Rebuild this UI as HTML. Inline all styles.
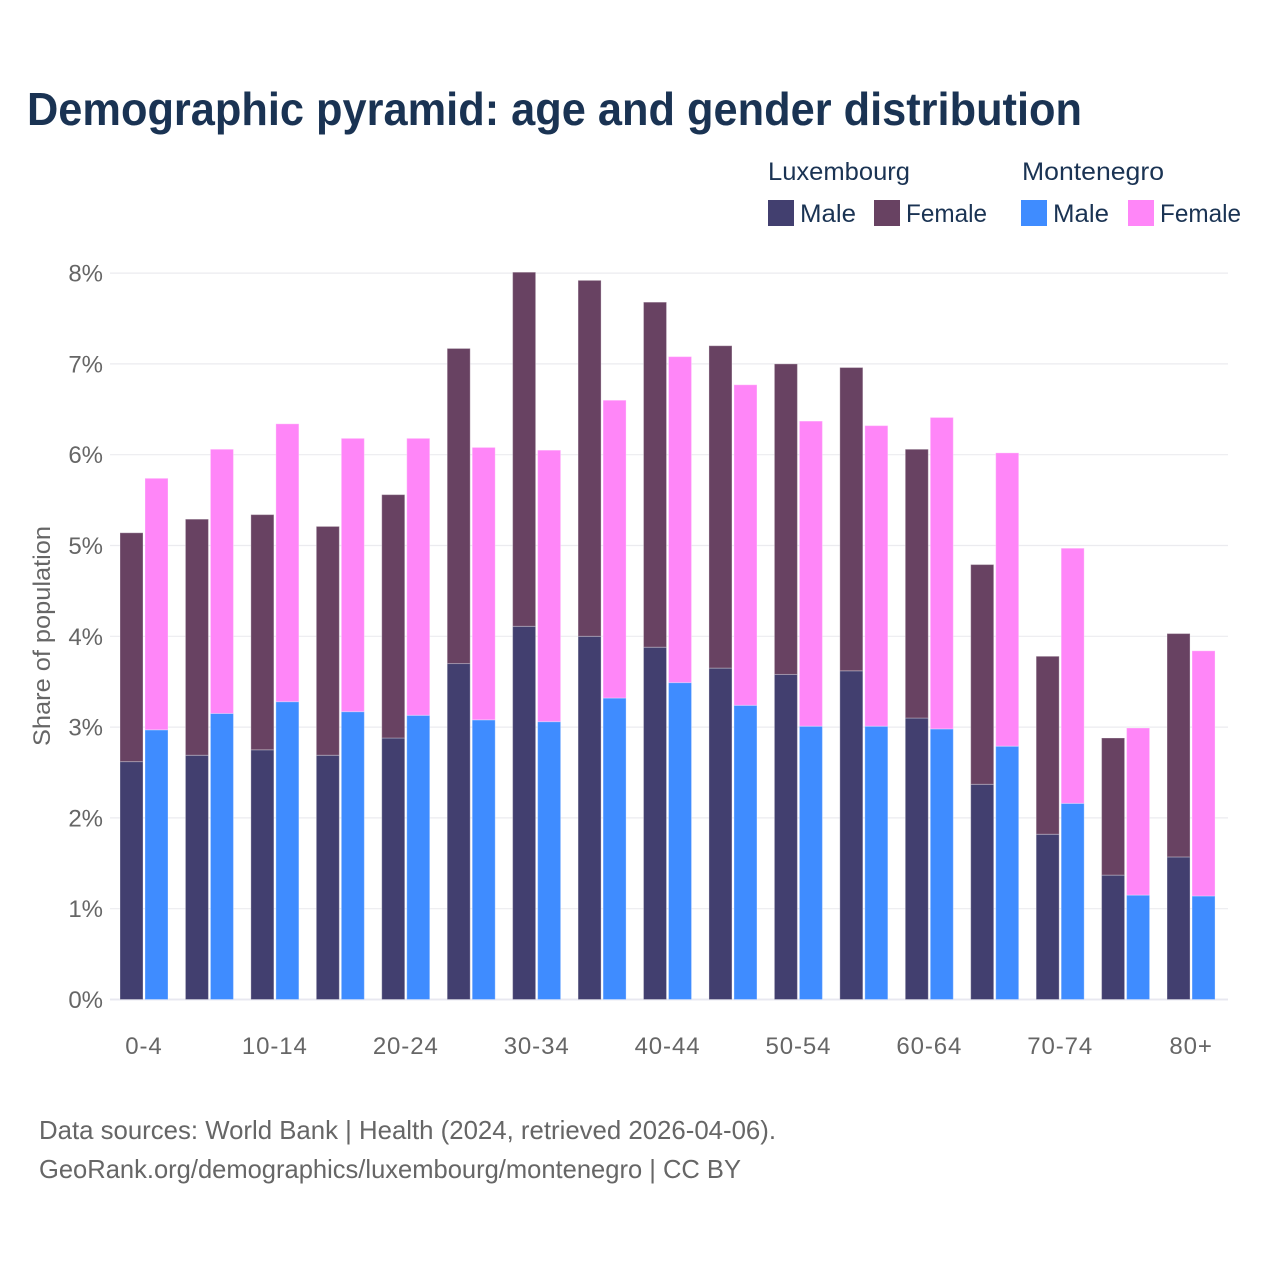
<!DOCTYPE html>
<html lang="en">
<head>
<meta charset="utf-8">
<title>Demographic pyramid: age and gender distribution</title>
<style>
html,body{margin:0;padding:0;background:#fff;}
svg{display:block;font-family:"Liberation Sans",sans-serif;}
</style>
</head>
<body>
<svg id="chart" xmlns="http://www.w3.org/2000/svg" width="1280" height="1280" viewBox="0 0 1280 1280">
  <rect width="1280" height="1280" fill="#ffffff"/>
  <text x="27" y="125" font-size="46" font-weight="700" fill="#1a3353" textLength="1055" lengthAdjust="spacingAndGlyphs">Demographic pyramid: age and gender distribution</text>

  <g font-size="25" fill="#1a3353">
    <text x="768" y="180" textLength="142" lengthAdjust="spacingAndGlyphs">Luxembourg</text>
    <text x="1022" y="180" textLength="142" lengthAdjust="spacingAndGlyphs">Montenegro</text>
    <rect x="768" y="200" width="26" height="26" fill="#423f6f"/>
    <text x="800" y="222" textLength="56" lengthAdjust="spacingAndGlyphs">Male</text>
    <rect x="874" y="200" width="26" height="26" fill="#684262"/>
    <text x="906" y="222" textLength="81" lengthAdjust="spacingAndGlyphs">Female</text>
    <rect x="1021" y="200" width="26" height="26" fill="#3f8cff"/>
    <text x="1053" y="222" textLength="56" lengthAdjust="spacingAndGlyphs">Male</text>
    <rect x="1128" y="200" width="26" height="26" fill="#ff86f8"/>
    <text x="1160" y="222" textLength="81" lengthAdjust="spacingAndGlyphs">Female</text>
  </g>

  <g id="grid"></g>
  <g id="yticks"></g>
  <g id="bars"></g>
  <g id="xticks"></g>

  <text transform="translate(50,636) rotate(-90)" text-anchor="middle" font-size="24" fill="#666666" textLength="220" lengthAdjust="spacingAndGlyphs">Share of population</text>

  <g font-size="26" fill="#666666">
    <text x="39" y="1139" textLength="737" lengthAdjust="spacingAndGlyphs">Data sources: World Bank | Health (2024, retrieved 2026-04-06).</text>
    <text x="39" y="1178" textLength="702" lengthAdjust="spacingAndGlyphs">GeoRank.org/demographics/luxembourg/montenegro | CC BY</text>
  </g>
</svg>
<script>
const categories = ["0-4","5-9","10-14","15-19","20-24","25-29","30-34","35-39","40-44","45-49","50-54","55-59","60-64","65-69","70-74","75-79","80+"];
const shownCategories = ["0-4","10-14","20-24","30-34","40-44","50-54","60-64","70-74","80+"];
const luxembourgMale = [2.62,2.69,2.75,2.69,2.88,3.70,4.11,4.00,3.88,3.65,3.58,3.62,3.10,2.37,1.82,1.37,1.57];
const luxembourgFemale = [2.52,2.60,2.59,2.52,2.68,3.47,3.90,3.92,3.80,3.55,3.42,3.34,2.96,2.42,1.96,1.51,2.46];
const montenegroMale = [2.97,3.15,3.28,3.17,3.13,3.08,3.06,3.32,3.49,3.24,3.01,3.01,2.98,2.79,2.16,1.15,1.14];
const montenegroFemale = [2.77,2.91,3.06,3.01,3.05,3.00,2.99,3.28,3.59,3.53,3.36,3.31,3.43,3.23,2.81,1.84,2.70];
const yTicks = [0,1,2,3,4,5,6,7,8];

const NS = "http://www.w3.org/2000/svg";
const yScale = v => 999.5 - v * 90.8;
const xScale = i => 120 + i * 65.44;
const BAR_W = 23;
const GROUP_GAP = 25;

function make(tag, attrs, parent) {
  const el = document.createElementNS(NS, tag);
  for (const k in attrs) el.setAttribute(k, attrs[k]);
  parent.appendChild(el);
  return el;
}

const grid = document.getElementById("grid");
const yLabels = document.getElementById("yticks");
yTicks.forEach(t => {
  const line = make("line", {x1:110, x2:1228, y1:yScale(t), y2:yScale(t), stroke: t === 0 ? "#e8e8f0" : "#ebebef", "stroke-width": t === 0 ? 2 : 1.2}, grid);
  
  
  const label = make("text", {x:103, y:yScale(t) + 8.5, "text-anchor":"end", "font-size":24, fill:"#666666"}, yLabels);
  
  
  label.textContent = t + "%";
});

const barsGroup = document.getElementById("bars");
function drawSegment(x, base, value, color) {
  const top = yScale(base + value);
  const bottom = yScale(base);
  const seg = make("rect", {x:x, y:top, width:BAR_W, height:bottom - top, fill:color, stroke:"rgba(255,255,255,0.3)", "stroke-width":1}, barsGroup);
  
  
}
categories.forEach((c, i) => {
  const x0 = xScale(i);
  drawSegment(x0, 0, luxembourgMale[i], "#423f6f");
  drawSegment(x0, luxembourgMale[i], luxembourgFemale[i], "#684262");
  const x1 = x0 + GROUP_GAP;
  drawSegment(x1, 0, montenegroMale[i], "#3f8cff");
  drawSegment(x1, montenegroMale[i], montenegroFemale[i], "#ff86f8");
});

const xLabels = document.getElementById("xticks");
categories.forEach((c, i) => {
  if (!shownCategories.includes(c)) return;
  const label = make("text", {x:xScale(i) + 24, y:1054, "text-anchor":"middle", "font-size":24, "letter-spacing":"0.9", fill:"#666666"}, xLabels);
  
  
  label.textContent = c;
});
</script>
</body>
</html>
